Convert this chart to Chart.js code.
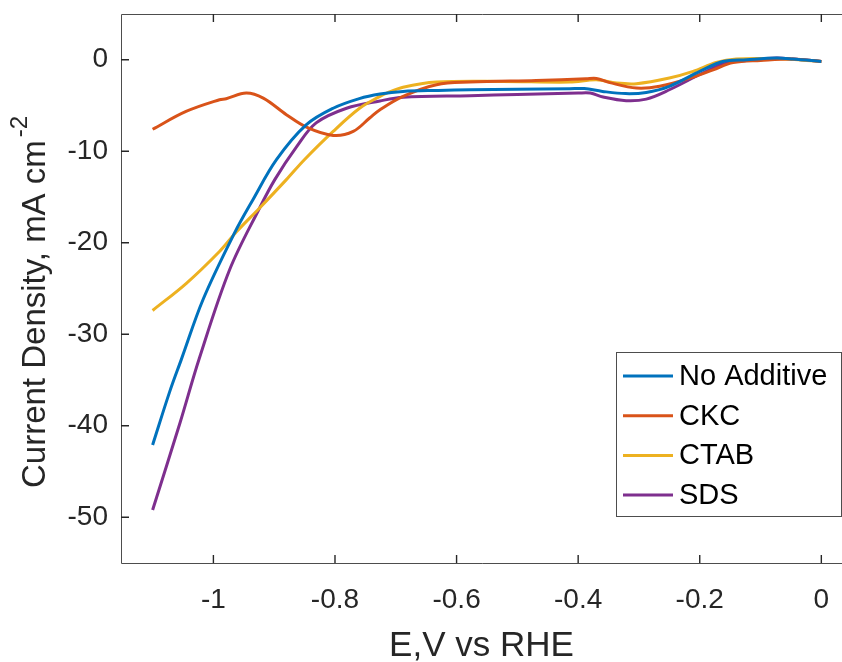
<!DOCTYPE html>
<html>
<head>
<meta charset="utf-8">
<script src="https://cdn.jsdelivr.net/npm/chart.js@4/dist/chart.umd.min.js"></script>
<style>
  html, body { margin: 0; padding: 0; background: #ffffff; }
  #wrap { width: 842px; height: 662px; position: relative; background: #ffffff; }
</style>
</head>
<body>
<div id="wrap"><canvas id="c" width="842" height="662"></canvas></div>
<script>
// ---- Data ----
const seriesNames = ['No Additive', 'CKC', 'CTAB', 'SDS'];
const seriesColors = ['#0072BD', '#D95319', '#EDB120', '#7E2F8E'];

const xNoAdditive = [-1.1, -1.072, -1.053, -1.017, -0.965, -0.935, -0.896, -0.847, -0.803, -0.76, -0.726, -0.688, -0.63, -0.578, -0.5, -0.414, -0.39, -0.36, -0.322, -0.288, -0.25, -0.2, -0.162, -0.123, -0.074, -0.047, 0];
const yNoAdditive = [-42.1, -36.3, -32.8, -26.2, -18.9, -15.3, -10.9, -7.1, -5.3, -4.25, -3.75, -3.46, -3.35, -3.28, -3.22, -3.17, -3.15, -3.46, -3.7, -3.57, -2.9, -1.27, -0.19, 0, 0.18, 0.08, -0.19];

const xCKC = [-1.1, -1.045, -0.99, -0.979, -0.946, -0.918, -0.88, -0.847, -0.803, -0.77, -0.743, -0.726, -0.688, -0.633, -0.578, -0.469, -0.387, -0.37, -0.348, -0.304, -0.266, -0.211, -0.178, -0.145, -0.1, -0.047, 0];
const yCKC = [-7.6, -5.65, -4.37, -4.26, -3.64, -4.2, -6.0, -7.36, -8.27, -7.83, -6.37, -5.46, -4.0, -2.73, -2.44, -2.26, -2.08, -2.04, -2.5, -3.1, -2.9, -1.9, -1.1, -0.3, -0.07, 0.08, -0.19];

const xCTAB = [-1.1, -1.044, -0.99, -0.962, -0.924, -0.88, -0.85, -0.803, -0.759, -0.726, -0.715, -0.688, -0.633, -0.524, -0.414, -0.37, -0.337, -0.304, -0.25, -0.211, -0.173, -0.14, -0.07, 0];
const yCTAB = [-27.4, -24.4, -20.95, -18.8, -16.2, -13.1, -10.9, -7.83, -5.28, -4.0, -3.64, -3.0, -2.44, -2.37, -2.44, -2.19, -2.55, -2.62, -2.0, -1.27, -0.3, 0.08, 0.1, -0.19];

const xSDS = [-1.1, -1.055, -1.023, -0.973, -0.924, -0.899, -0.863, -0.831, -0.781, -0.726, -0.688, -0.578, -0.5, -0.4, -0.38, -0.359, -0.321, -0.288, -0.25, -0.195, -0.156, -0.123, -0.074, -0.047, 0];
const ySDS = [-49.2, -39.7, -32.6, -22.9, -16.2, -13.1, -9.5, -6.9, -5.3, -4.5, -4.1, -3.93, -3.8, -3.64, -3.64, -4.08, -4.48, -4.3, -3.28, -1.45, -0.3, -0.07, 0.18, 0.08, -0.19];

const xTickValues = [-1, -0.8, -0.6, -0.4, -0.2, 0];
const yTickValues = [-50, -40, -30, -20, -10, 0];
const xAxisTitle = 'E,V vs RHE';
const yAxisTitleMain = 'Current Density, mA cm';
const yAxisTitleSup = '-2';

// ---- Build datasets ----
const xs = [xNoAdditive, xCKC, xCTAB, xSDS];
const ys = [yNoAdditive, yCKC, yCTAB, ySDS];
const datasets = seriesNames.map((name, k) => ({
  label: name,
  data: xs[k].map((xv, i) => ({ x: xv, y: ys[k][i] })),
  borderColor: seriesColors[k],
  backgroundColor: seriesColors[k],
  borderWidth: 3,
  pointRadius: 0,
  showLine: true,
  fill: false,
  tension: 0.35
}));

const FONT = '"Liberation Sans", Arial, Helvetica, sans-serif';
const fmt = v => (v < 0 ? '-' + String(Math.abs(v)) : String(v));

// ---- Plugins: MATLAB-like box, inward ticks, legend, y title ----
const matlabFrame = {
  id: 'matlabFrame',
  afterDatasetsDraw(chart) {
    const { ctx, chartArea: a, scales: { x, y } } = chart;
    ctx.save();
    ctx.strokeStyle = '#4d4d4d';
    ctx.lineWidth = 1;
    ctx.beginPath();
    ctx.moveTo(a.left + 0.5, a.bottom + 0.5);
    ctx.lineTo(a.left + 0.5, a.top + 0.5);
    ctx.lineTo(a.right + 1, a.top + 0.5);
    ctx.moveTo(a.left + 0.5, a.bottom + 0.5);
    ctx.lineTo(a.right + 1, a.bottom + 0.5);
    ctx.stroke();
    ctx.strokeStyle = '#262626';
    ctx.lineWidth = 1.4;
    const tl = 8;
    ctx.beginPath();
    xTickValues.forEach(v => {
      const px = x.getPixelForValue(v);
      ctx.moveTo(px, a.bottom); ctx.lineTo(px, a.bottom - tl);
      ctx.moveTo(px, a.top); ctx.lineTo(px, a.top + tl);
    });
    yTickValues.forEach(v => {
      const py = y.getPixelForValue(v);
      ctx.moveTo(a.left, py); ctx.lineTo(a.left + tl, py);
    });
    ctx.stroke();
    ctx.restore();
  },
  afterDraw(chart) {
    const { ctx } = chart;
    ctx.save();
    const bx = 616.5, by = 352.5, bw = 225, bh = 164;
    ctx.fillStyle = '#ffffff';
    ctx.fillRect(bx, by, bw, bh);
    ctx.strokeStyle = '#4d4d4d';
    ctx.lineWidth = 1;
    ctx.strokeRect(bx, by, bw, bh);
    ctx.font = '29px ' + FONT;
    ctx.textBaseline = 'middle';
    ctx.textAlign = 'left';
    chart.data.datasets.forEach((ds, i) => {
      const ry = 376 + i * 39.7;
      ctx.strokeStyle = ds.borderColor;
      ctx.lineWidth = 3;
      ctx.beginPath();
      ctx.moveTo(623, ry); ctx.lineTo(673, ry);
      ctx.stroke();
      ctx.fillStyle = '#000000';
      ctx.fillText(ds.label, 679, ry + 1);
    });
    ctx.fillStyle = '#262626';
    ctx.translate(45, 488);
    ctx.rotate(-Math.PI / 2);
    ctx.textBaseline = 'alphabetic';
    ctx.font = '33px ' + FONT;
    ctx.fillText(yAxisTitleMain, 0, 0);
    const w = ctx.measureText(yAxisTitleMain).width;
    ctx.font = '24px ' + FONT;
    ctx.fillText(yAxisTitleSup, w + 3, -18);
    ctx.restore();
  }
};

new Chart(document.getElementById('c'), {
  type: 'scatter',
  data: { datasets },
  options: {
    responsive: false,
    animation: false,
    devicePixelRatio: 1,
    layout: { padding: { top: 14, right: 0, left: 0, bottom: 0 } },
    plugins: {
      legend: { display: false },
      tooltip: { enabled: false }
    },
    scales: {
      x: {
        type: 'linear',
        min: -1.152,
        max: 0.034,
        grid: { display: false, drawTicks: false },
        border: { display: false },
        afterBuildTicks: s => { s.ticks = xTickValues.map(v => ({ value: v })); },
        afterFit: s => { s.height = 99; s.paddingLeft = 0; s.paddingRight = 0; },
        ticks: {
          autoSkip: false,
          maxRotation: 0,
          padding: 20,
          color: '#262626',
          font: { family: FONT, size: 28 },
          callback: v => fmt(v)
        },
        title: {
          display: true,
          text: xAxisTitle,
          color: '#262626',
          font: { family: FONT, size: 35, lineHeight: 0.9 },
          padding: { top: 0, bottom: 0 }
        }
      },
      y: {
        type: 'linear',
        min: -55,
        max: 5,
        grid: { display: false, drawTicks: false },
        border: { display: false },
        afterBuildTicks: s => { s.ticks = yTickValues.map(v => ({ value: v })); },
        afterFit: s => { s.width = 121; s.paddingTop = 0; s.paddingBottom = 0; },
        ticks: {
          autoSkip: false,
          padding: 13,
          color: '#262626',
          font: { family: FONT, size: 28 },
          callback: v => fmt(v)
        }
      }
    }
  },
  plugins: [matlabFrame]
});
</script>
</body>
</html>
